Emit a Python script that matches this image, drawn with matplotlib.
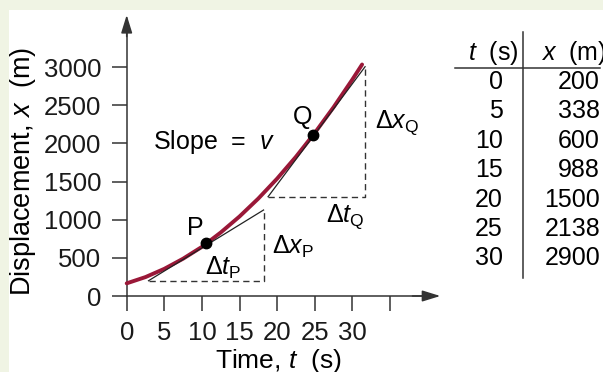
import matplotlib
matplotlib.use("Agg")
import matplotlib.pyplot as plt
from matplotlib.patches import Rectangle
from matplotlib.lines import Line2D

plt.rcParams['font.family'] = 'Liberation Sans'
plt.rcParams['mathtext.fontset'] = 'custom'
plt.rcParams['mathtext.rm'] = 'Liberation Sans'
plt.rcParams['mathtext.it'] = 'Liberation Sans:italic'

# table on the right
table_t = [0, 5, 10, 15, 20, 25, 30]
table_x = [200, 338, 600, 988, 1500, 2138, 2900]

# the curve as drawn in the figure
curve_t = [0, 2.5, 5, 7.5, 10, 12.5, 15, 17.5, 20, 22.5, 25, 27.5, 30, 31.3]
curve_x = [166, 248, 356, 489, 644, 832, 1042, 1277, 1538, 1824, 2136, 2473, 2836, 3034]

# points P and Q
pt_t = [10.6, 24.8]
pt_x = [690, 2110]

# tangent lines (start, end)
tanP_t = [2.9, 18.2]
tanP_x = [200, 1127]
tanQ_t = [18.8, 31.7]
tanQ_x = [1301, 3005]

x_ticks = [0, 5, 10, 15, 20, 25, 30, 35]
x_labels = ['0', '5', '10', '15', '20', '25', '30', '']
y_ticks = [0, 500, 1000, 1500, 2000, 2500, 3000]

W, H = 603, 372
axc = '#333333'
red = '#9a1838'
fs = 18

fig = plt.figure(figsize=(W / 100, H / 100), dpi=100)
fig.patch.set_facecolor('#f0f4e4')
fig.patches.append(Rectangle((9 / W, 0), 1, 1 - 10 / H, transform=fig.transFigure,
                             facecolor='white', edgecolor='none', zorder=-5))

ax = fig.add_axes([0, 0, 1, 1])
ax.set_facecolor('none')
# pixel 126.7 -> t=0, 7.52 px per s ; pixel 296 (from top) -> x=0, 0.0763 px per m
ax.set_xlim(-126.7 / 7.52, (W - 126.7) / 7.52)
ax.set_ylim((296 - H) / 0.0763, 296 / 0.0763)

for s in ['top', 'right']:
    ax.spines[s].set_visible(False)
ax.spines['left'].set_position(('data', 0))
ax.spines['bottom'].set_position(('data', 0))
ax.spines['left'].set_bounds(0, 3600)
ax.spines['bottom'].set_bounds(0, 41)
for s in ['left', 'bottom']:
    ax.spines[s].set_color(axc)
    ax.spines[s].set_linewidth(1.1)

ax.set_xticks(x_ticks)
ax.set_xticklabels(x_labels)
ax.set_yticks(y_ticks)
ax.tick_params(direction='out', length=10.8, width=1.1, color=axc, labelsize=18.5,
               labelcolor='#1a1a1a')
ax.tick_params(axis='x', pad=7.5)
ax.tick_params(axis='y', pad=7.5)

arrow = dict(arrowstyle='-|>,head_length=0.55,head_width=0.17', color=axc, lw=1.1,
             mutation_scale=20, shrinkA=0, shrinkB=0)
ax.annotate('', xy=(0, 3683), xytext=(0, 3400), arrowprops=arrow)
ax.annotate('', xy=(41.7, 0), xytext=(38, 0), arrowprops=arrow)

# curve, tangents and triangles
ax.plot(curve_t, curve_x, color=red, lw=2.8, solid_capstyle='round', zorder=3)
ax.plot(tanP_t, tanP_x, color='#222222', lw=0.9, zorder=4)
ax.plot(tanQ_t, tanQ_x, color='#222222', lw=0.9, zorder=4)
dash = dict(color=axc, lw=1.0, dashes=[4.5, 3], zorder=2)
ax.plot([tanP_t[0], tanP_t[1], tanP_t[1]], [tanP_x[0], tanP_x[0], tanP_x[1]], **dash)
ax.plot([tanQ_t[0], tanQ_t[1], tanQ_t[1]], [tanQ_x[0], tanQ_x[0], tanQ_x[1]], **dash)
ax.plot(pt_t, pt_x, 'o', color='black', ms=7.5, zorder=5)

ax.text(9.1, 891, 'P', fontsize=fs, ha='center', va='center')
ax.text(23.4, 2346, 'Q', fontsize=fs, ha='center', va='center')
ax.text(3.5, 2018, 'Slope  =  $v$', fontsize=fs, ha='left', va='center')
ax.text(12.8, 367, r'$\Delta t_{\rm P}$', fontsize=fs, ha='center', va='center')
ax.text(19.3, 642, r'$\Delta x_{\rm P}$', fontsize=fs, ha='left', va='center')
ax.text(29.0, 1035, r'$\Delta t_{\rm Q}$', fontsize=fs, ha='center', va='center')
ax.text(33.0, 2267, r'$\Delta x_{\rm Q}$', fontsize=fs, ha='left', va='center')

# axis titles
fig.text(23 / W, 1 - 171 / H, 'Displacement, $x$  (m)', fontsize=19.5, rotation=90,
         ha='center', va='center')
fig.text(278 / W, 1 - 361 / H, 'Time, $t$  (s)', fontsize=19, ha='center', va='center')

# table
fig.text(519 / W, 1 - 53 / H, '$t$  (s)', fontsize=fs, ha='right', va='center')
fig.text(541 / W, 1 - 53 / H, '$x$  (m)', fontsize=fs, ha='left', va='center')
for i, (tt, xx) in enumerate(zip(table_t, table_x)):
    yy = 1 - (82 + 29.4 * i) / H
    fig.text(503 / W, yy, str(tt), fontsize=fs, ha='right', va='center')
    fig.text(600 / W, yy, str(xx), fontsize=fs, ha='right', va='center')
fig.add_artist(Line2D([522.7 / W, 522.7 / W], [1 - 31.7 / H, 1 - 278 / H], color=axc, lw=1.1))
fig.add_artist(Line2D([455 / W, 600 / W], [1 - 67.5 / H, 1 - 67.5 / H], color=axc, lw=1.1))

fig.savefig('out.png', dpi=100, facecolor=fig.get_facecolor())
